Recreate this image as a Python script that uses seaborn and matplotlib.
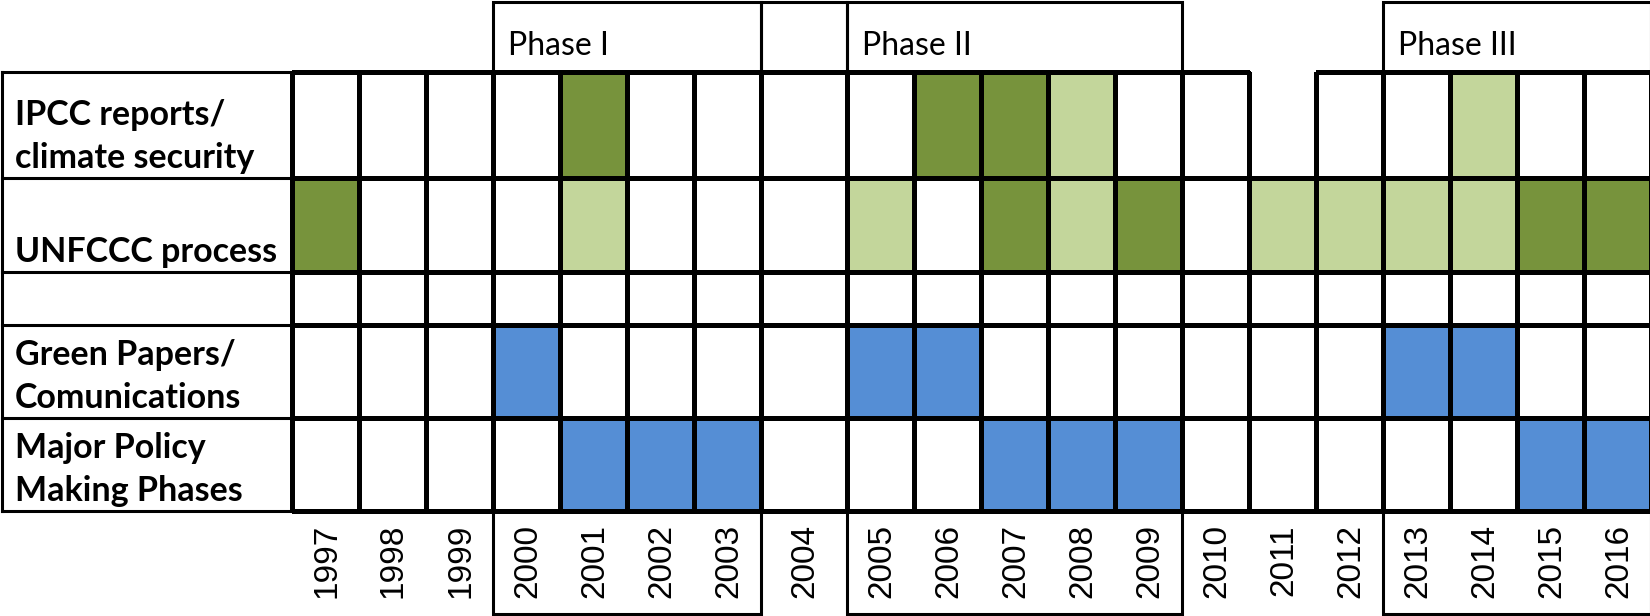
import numpy as np
import pandas as pd
import matplotlib
matplotlib.use("Agg")
import matplotlib.pyplot as plt
import matplotlib.transforms as mtransforms
from matplotlib.colors import ListedColormap
import seaborn as sns

# ---------------- data ----------------
years = list(range(1997, 2017))
row_keys = ["ipcc", "unfccc", "spacer", "green", "policy"]
row_labels = [["IPCC reports/", "climate security"],
              ["UNFCCC process"],
              [],
              ["Green Papers/", "Comunications"],
              ["Major Policy", "Making Phases"]]

ipcc_major = [2001, 2006, 2007]
ipcc_minor = [2008, 2014]
unfccc_major = [1997, 2007, 2009, 2015, 2016]
unfccc_minor = [2001, 2005, 2008, 2011, 2012, 2013, 2014]
green_papers = [2000, 2005, 2006, 2013, 2014]
major_policy = [2001, 2002, 2003, 2007, 2008, 2009, 2015, 2016]
absent_cells = [("ipcc", 2011)]

phase_names = ["Phase I", "Phase II", "Phase III"]
phase_start = [2000, 2005, 2013]
phase_end = [2003, 2009, 2016]
bridge_years = [2004]

# ---------------- matrix ----------------
grid = pd.DataFrame(0, index=row_keys, columns=years)
grid.loc["ipcc", ipcc_minor] = 1
grid.loc["ipcc", ipcc_major] = 2
grid.loc["unfccc", unfccc_minor] = 1
grid.loc["unfccc", unfccc_major] = 2
grid.loc["green", green_papers] = 3
grid.loc["policy", major_policy] = 3
mask = pd.DataFrame(False, index=row_keys, columns=years)
for r, y in absent_cells:
    mask.loc[r, y] = True

# ---------------- layout (pixels) ----------------
W, H = 1650, 616
left0, label_w, col_w = 2, 290, 67
wide_w = {2004: 86}
top0, header_h, footer_h = 2, 70, 103
row_h = [106, 94, 53, 93, 93]

xk_data = [-1, 0]
xk_px = [left0, left0 + label_w]
for j, yv in enumerate(years):
    xk_data.append(j + 1)
    xk_px.append(xk_px[-1] + wide_w.get(yv, col_w))
yk_data = [-1, 0]
yk_px = [top0, top0 + header_h]
for i, h in enumerate(row_h):
    yk_data.append(i + 1)
    yk_px.append(yk_px[-1] + h)
yk_data.append(len(row_h) + 1)
yk_px.append(yk_px[-1] + footer_h)


def piecewise(kd, kp):
    kd = np.asarray(kd, float)
    kp = np.asarray(kp, float)

    def f(v):
        v = np.asarray(v, float)
        out = np.interp(v, kd, kp)
        s0 = (kp[1] - kp[0]) / (kd[1] - kd[0])
        s1 = (kp[-1] - kp[-2]) / (kd[-1] - kd[-2])
        out = np.where(v < kd[0], kp[0] + (v - kd[0]) * s0, out)
        out = np.where(v > kd[-1], kp[-1] + (v - kd[-1]) * s1, out)
        return out
    return f


fx, ix = piecewise(xk_data, xk_px), piecewise(xk_px, xk_data)
fy, iy = piecewise(yk_data, yk_px), piecewise(yk_px, yk_data)

# ---------------- drawing ----------------
sns.set_style("white")
plt.rcParams["font.family"] = ["Lato", "DejaVu Sans"]

fig = plt.figure(figsize=(W / 100, H / 100), dpi=100)
ax = fig.add_axes([0, 0, 1, 1])

cmap = ListedColormap(["#FFFFFF", "#C3D69B", "#77933C", "#558ED5"])
LW = 2.2
sns.heatmap(grid, mask=mask, ax=ax, cmap=cmap, vmin=-0.5, vmax=3.5, cbar=False,
            linewidths=LW, linecolor="black", xticklabels=False, yticklabels=False)

# absent cells: no outline of their own
mesh = ax.collections[0]
edge = np.tile([0.0, 0.0, 0.0, 1.0], (grid.size, 1))
edge[mask.to_numpy().ravel(), 3] = 0.0
mesh.set_edgecolor(edge)

ax.set_xscale("function", functions=(fx, ix))
ax.set_yscale("function", functions=(fy, iy))
ax.set_xlim(float(ix(0)), float(ix(W)))
ax.set_ylim(float(iy(H)), float(iy(0)))
ax.axis("off")

n_rows = len(row_keys)
# label column borders
ax.hlines(range(n_rows + 1), -1, 0, colors="black", linewidth=LW, capstyle="projecting")
ax.vlines(-1, 0, n_rows, colors="black", linewidth=LW, capstyle="projecting")

col_of = {y: j for j, y in enumerate(years)}
line_kw = dict(color="black", linewidth=LW, solid_capstyle="projecting",
               solid_joinstyle="miter", clip_on=False)

# header boxes (phases + bridge years)
header_boxes = [(col_of[s], col_of[e] + 1) for s, e in zip(phase_start, phase_end)]
header_boxes += [(col_of[b], col_of[b] + 1) for b in bridge_years]
for x0, x1 in header_boxes:
    ax.plot([x0, x0, x1, x1], [0, -1, -1, 0], **line_kw)
# footer boxes (phases)
for s, e in zip(phase_start, phase_end):
    x0, x1 = col_of[s], col_of[e] + 1
    ax.plot([x0, x0, x1, x1], [n_rows, n_rows + 1, n_rows + 1, n_rows], **line_kw)

# phase names
ph_tr = mtransforms.offset_copy(ax.transData, fig=fig, x=15, y=17, units="dots")
for name, s in zip(phase_names, phase_start):
    ax.text(col_of[s], 0, name, transform=ph_tr, ha="left", va="baseline",
            fontsize=23, color="black")

# row labels (bottom-aligned in each row)
for i, lines in enumerate(row_labels):
    for k, line in enumerate(reversed(lines)):
        tr = mtransforms.offset_copy(ax.transData, fig=fig, x=13, y=10 + 43 * k, units="dots")
        ax.text(-1, i + 1, line, transform=tr, ha="left", va="baseline",
                fontsize=24.5, fontweight="bold", color="black")

# year labels
yr_tr = mtransforms.offset_copy(ax.transData, fig=fig, x=1, y=-13, units="dots")
for j, yv in enumerate(years):
    ax.text(j + 0.5, n_rows, str(yv), transform=yr_tr, rotation=90, ha="center", va="top",
            fontsize=24, family=["Liberation Sans", "DejaVu Sans"], color="black")

fig.savefig("out.png", dpi=100, facecolor="white")
